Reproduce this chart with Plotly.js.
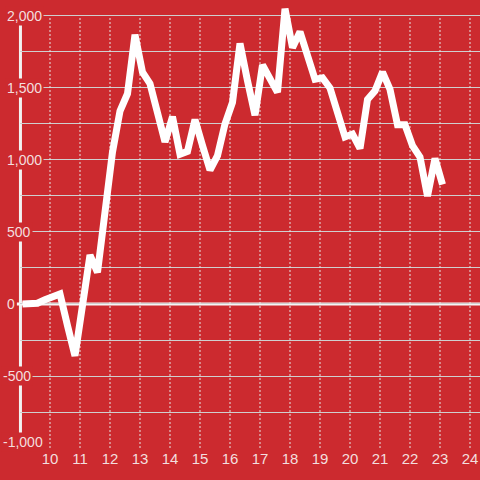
<!DOCTYPE html>
<html>
<head>
<meta charset="utf-8">
<script src="https://cdn.plot.ly/plotly-3.0.1.min.js"></script>
<style>html,body{margin:0;padding:0;background:#cc2a2f;}#chart{width:480px;height:480px;}</style>
</head>
<body>
<div id="chart"></div>
<script>
// Data (x positions in the chart's own x units)
var xValues = [9.083,9.333,9.583,9.833,10.083,10.333,10.583,10.833,11.083,11.333,
  11.583,11.833,12.083,12.333,12.583,12.833,13.083,13.333,13.583,13.833,
  14.083,14.333,14.583,14.833,15.083,15.333,15.583,15.833,16.083,16.333,
  16.583,16.833,17.083,17.333,17.583,17.833,18.083,18.333,18.583,18.833,
  19.083,19.333,19.583,19.833,20.083,20.333,20.583,20.833,21.083,21.333,
  21.583,21.833,22.083,22.333,22.583,22.833,23.083];
var yValues = [0,0,5,30,50,70,-150,-360,-10,340,
  220,640,1055,1340,1460,1870,1610,1530,1330,1125,
  1300,1040,1060,1280,1100,930,1030,1250,1400,1810,
  1550,1310,1660,1560,1470,2050,1780,1890,1720,1560,
  1570,1500,1330,1160,1180,1080,1420,1480,1610,1490,
  1245,1245,1100,1020,750,1010,830];
var xTicks = [10,11,12,13,14,15,16,17,18,19,20,21,22,23,24];
var xTickLabels = ["10","11","12","13","14","15","16","17","18","19","20","21","22","23","24"];
var yTicks = [2000,1500,1000,500,0,-500,-1000];
var yTickLabels = ["2,000","1,500","1,000","500","0","-500","-1,000"];

var RED = '#cc2a2f';
var TEXT = '#f3dede';
var GRID = '#cfcfcf';
var FONT = 'Liberation Sans, Arial, sans-serif';

var shapes = [];
xTicks.forEach(function(v){
  shapes.push({type:'line', xref:'x', yref:'y', x0:v, x1:v, y0:-1000, y1:2000,
    line:{color:'#e6e6e6', width:1, dash:'2px,2px'}, layer:'between'});
});
// y axis line
shapes.push({type:'line', xref:'paper', yref:'y', x0:0.001, x1:0.001, y0:-1000, y1:2000,
  line:{color:'#f2f2f2', width:3}, layer:'between'});
// zero line
shapes.push({type:'line', xref:'paper', yref:'y', x0:-0.007, x1:1, y0:0, y1:0,
  line:{color:'#f5f5f5', width:3}, layer:'between'});

var annotations = yTicks.map(function(v,i){
  var neg = yTickLabels[i].charAt(0) === '-';
  var bottom = (i === yTicks.length - 1);
  return {xref:'paper', yref:'y', x:((neg ? 1 : 4.5) - 20)/460, y:v, xanchor:'left', yanchor:'middle',
    yshift: bottom ? 6 : 0,
    text:yTickLabels[i], showarrow:false, bgcolor:RED, borderpad:1,
    font:{family:FONT, size:14, color:TEXT}};
});

var trace = {x:xValues, y:yValues, type:'scatter', mode:'lines',
  line:{color:'#ffffff', width:7, shape:'linear'}, hoverinfo:'skip'};

var layout = {
  width:480, height:480,
  margin:{l:20, r:0, t:0, b:32, pad:0},
  paper_bgcolor:RED, plot_bgcolor:RED,
  showlegend:false,
  xaxis:{range:[9,24.333], tickvals:xTicks, ticktext:xTickLabels, showgrid:false,
    zeroline:false, showline:false, ticks:'', tickfont:{family:FONT, size:15, color:TEXT},
    fixedrange:true},
  yaxis:{range:[-1000,2111], tick0:0, dtick:250, showgrid:true, gridcolor:GRID, gridwidth:1,
    zeroline:false, showline:false, showticklabels:false, ticks:'', fixedrange:true},
  shapes:shapes,
  annotations:annotations
};
Plotly.newPlot('chart', [trace], layout, {displayModeBar:false, staticPlot:true});
</script>
</body>
</html>
